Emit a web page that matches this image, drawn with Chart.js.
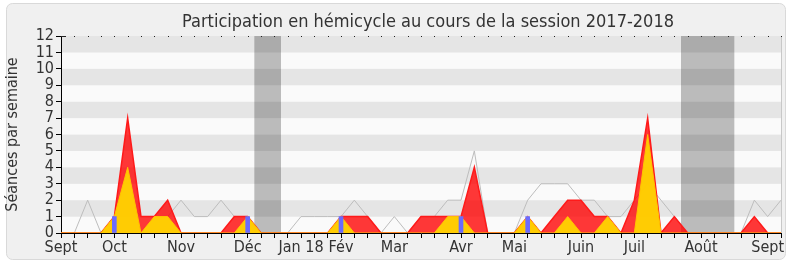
<!DOCTYPE html>
<html>
<head>
<meta charset="utf-8">
<script src="https://cdn.jsdelivr.net/npm/chart.js@4.4.1/dist/chart.umd.min.js"></script>
<style>
  html, body { margin: 0; padding: 0; background: #fff; }
  #wrap { width: 790px; height: 267px; }
</style>
</head>
<body>
<div id="wrap"><canvas id="chart" width="790" height="267"></canvas></div>
<script>
// week index 0..54, month labels on the week ticks
const monthTicks = [0, 4, 9, 14, 18, 21, 25, 30, 34, 39, 43, 48, 53];
const monthNames = ['Sept', 'Oct', 'Nov', 'Déc', 'Jan 18', 'Fév', 'Mar', 'Avr', 'Mai', 'Juin', 'Juil', 'Août', 'Sept'];

// séances présentes (rouge)
const presences = [0, 0, 0, 0, 1, 7, 1, 1, 2, 0, 0, 0, 0, 1, 1, 0, 0, 0, 0, 0, 0, 1, 1, 1, 0, 0, 0, 1, 1, 1, 1, 4, 0, 0, 0, 1, 0, 1, 2, 2, 1, 1, 0, 2, 7, 0, 1, 0, 0, 0, 0, 0, 1, 0, 0];
// séances avec intervention (jaune)
const interventions = [0, 0, 0, 0, 1, 4, 0, 1, 1, 0, 0, 0, 0, 0, 1, 0, 0, 0, 0, 0, 0, 1, 0, 0, 0, 0, 0, 0, 0, 1, 1, 0, 0, 0, 0, 1, 0, 0, 1, 0, 0, 1, 0, 0, 6, 0, 0, 0, 0, 0, 0, 0, 0, 0, 0];
// questions orales (bleu)
const questionWeeks = [4, 14, 21, 30, 35];
const questionValues = [1, 1, 1, 1, 1];
// médiane des députés (gris)
const mediane = [0, 0, 2, 0, 1, 2, 1, 1, 1, 2, 1, 1, 2, 1, 1, 0, 0, 0, 1, 1, 1, 1, 2, 1, 0, 1, 0, 1, 1, 2, 2, 5, 0, 0, 0, 2, 3, 3, 3, 2, 2, 1, 1, 2, 3, 2, 1, 0, 0, 0, 0, 0, 2, 1, 2];
// vacances parlementaires (début, fin en semaines)
const vacances = [[14.5, 16.5], [46.5, 50.5]];

const FONT = "'DejaVu Sans Condensed', 'DejaVu Sans', sans-serif";

const backdrop = {
    id: 'backdrop',
    beforeDraw(chart) {
        const ctx = chart.ctx;
        const a = chart.chartArea;
        const y = chart.scales.y;
        const x = chart.scales.x;
        ctx.save();
        // fond arrondi
        ctx.fillStyle = '#f0f0f0';
        ctx.strokeStyle = '#d9d9d9';
        ctx.lineWidth = 1;
        ctx.beginPath();
        ctx.roundRect(6.5, 3.5, 779, 256, 6);
        ctx.fill();
        ctx.stroke();
        // bandes horizontales
        for (let v = 0; v < 12; v++) {
            const top = y.getPixelForValue(v + 1);
            const bot = y.getPixelForValue(v);
            ctx.fillStyle = v % 2 === 1 ? '#e5e5e5' : '#fafafa';
            ctx.fillRect(a.left, top, a.right - a.left, bot - top);
        }
        // vacances
        ctx.fillStyle = 'rgba(0,0,0,0.25)';
        vacances.forEach(([s, e]) => {
            const x0 = x.getPixelForValue(s);
            const x1 = x.getPixelForValue(e);
            ctx.fillRect(x0, a.top, x1 - x0, a.bottom - a.top);
        });
        ctx.restore();
    },
    afterDraw(chart) {
        const ctx = chart.ctx;
        const a = chart.chartArea;
        const x = chart.scales.x;
        ctx.save();
        // bord droit
        ctx.strokeStyle = '#c8c8c8';
        ctx.beginPath();
        ctx.moveTo(a.right + 0.5, a.top);
        ctx.lineTo(a.right + 0.5, a.bottom);
        ctx.stroke();
        // ligne pointillée du haut
        ctx.fillStyle = '#222';
        for (let i = 0; i <= 54; i++) {
            const px = Math.round(x.getPixelForValue(i));
            ctx.fillRect(px, a.top, 1, 1);
        }
        ctx.fillRect(a.left, a.top, 5, 1);
        // titres
        ctx.fillStyle = '#333';
        ctx.font = '18px ' + FONT;
        ctx.textAlign = 'center';
        ctx.textBaseline = 'alphabetic';
        ctx.fillText('Participation en hémicycle au cours de la session 2017-2018', 428, 27);
        ctx.translate(13, (a.top + a.bottom) / 2);
        ctx.rotate(-Math.PI / 2);
        ctx.font = '16px ' + FONT;
        ctx.textBaseline = 'middle';
        ctx.fillText('Séances par semaine', 0, 0);
        ctx.restore();
    }
};

const toPoints = arr => arr.map((v, i) => ({ x: i, y: v }));

new Chart(document.getElementById('chart'), {
    data: {
        datasets: [
            {
                type: 'bar',
                data: questionWeeks.map((w, i) => ({ x: w, y: questionValues[i] })),
                backgroundColor: '#6b6bff',
                barThickness: 4,
                order: 1
            },
            {
                type: 'line',
                data: toPoints(interventions),
                backgroundColor: 'rgba(255,212,0,0.95)',
                borderColor: '#ffc400',
                borderWidth: 1,
                pointRadius: 0,
                fill: 'origin',
                order: 2
            },
            {
                type: 'line',
                data: toPoints(presences),
                backgroundColor: 'rgba(255,0,0,0.78)',
                borderColor: '#ff1a1a',
                borderWidth: 1.5,
                pointRadius: 0,
                fill: 'origin',
                order: 3
            },
            {
                type: 'line',
                data: toPoints(mediane),
                borderColor: '#bdbdbd',
                borderWidth: 1,
                pointRadius: 0,
                fill: false,
                order: 4
            }
        ]
    },
    options: {
        responsive: false,
        animation: false,
        layout: { padding: { top: 36, right: 9, left: 0, bottom: 0 } },
        plugins: {
            legend: { display: false },
            tooltip: { enabled: false }
        },
        scales: {
            x: {
                type: 'linear',
                min: 0,
                max: 54,
                offset: false,
                afterBuildTicks: scale => {
                    const t = [];
                    for (let i = 0; i <= 54; i++) t.push({ value: i });
                    scale.ticks = t;
                },
                afterFit: scale => { scale.height = 34; },
                ticks: {
                    autoSkip: false,
                    maxRotation: 0,
                    padding: 0,
                    color: '#333',
                    font: { family: FONT, size: 16 },
                    callback: v => {
                        const k = monthTicks.indexOf(v);
                        return k >= 0 ? monthNames[k] : '';
                    }
                },
                grid: { drawOnChartArea: false, offset: false, tickLength: 5, color: '#000' },
                border: { color: '#000' }
            },
            y: {
                min: 0,
                max: 12,
                afterFit: scale => { scale.width = 61; },
                ticks: {
                    stepSize: 1,
                    autoSkip: false,
                    padding: 2,
                    color: '#333',
                    font: { family: FONT, size: 16 }
                },
                grid: { drawOnChartArea: false, tickLength: 5, color: '#000' },
                border: { color: '#000' }
            }
        }
    },
    plugins: [backdrop]
});
</script>
</body>
</html>
